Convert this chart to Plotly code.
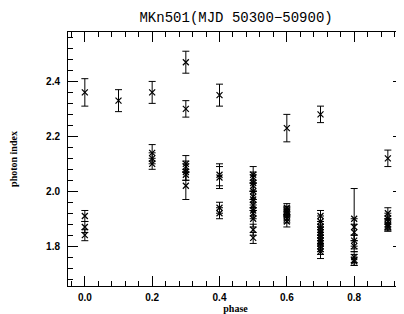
import plotly.graph_objects as go

# phase, photon index, error
phase = [0.0, 0.0, 0.0, 0.0,
         0.1,
         0.2, 0.2, 0.2, 0.2,
         0.3, 0.3, 0.3, 0.3, 0.3, 0.3, 0.3,
         0.4, 0.4, 0.4, 0.4, 0.4,
         0.5, 0.5, 0.5, 0.5, 0.5, 0.5, 0.5, 0.5, 0.5, 0.5, 0.5, 0.5, 0.5,
         0.6, 0.6, 0.6, 0.6, 0.6, 0.6, 0.6, 0.6,
         0.7, 0.7, 0.7, 0.7, 0.7, 0.7, 0.7, 0.7, 0.7, 0.7, 0.7, 0.7, 0.7,
         0.8, 0.8, 0.8, 0.8, 0.8, 0.8, 0.8, 0.8,
         0.9, 0.9, 0.9, 0.9, 0.9, 0.9, 0.9]
index = [2.36, 1.91, 1.87, 1.84,
         2.33,
         2.36, 2.14, 2.12, 2.10,
         2.47, 2.30, 2.10, 2.09, 2.07, 2.06, 2.02,
         2.35, 2.06, 2.05, 1.94, 1.92,
         2.06, 2.05, 2.03, 2.02, 2.00, 1.98, 1.97, 1.95, 1.93, 1.92, 1.90, 1.86, 1.83,
         2.23, 1.94, 1.93, 1.925, 1.92, 1.91, 1.90, 1.89,
         2.28, 1.91, 1.89, 1.87, 1.86, 1.85, 1.84, 1.83, 1.82, 1.81, 1.80, 1.79, 1.78,
         1.90, 1.87, 1.85, 1.82, 1.80, 1.76, 1.75, 1.745,
         2.12, 1.92, 1.90, 1.89, 1.88, 1.875, 1.87]
error = [0.05, 0.02, 0.02, 0.02,
         0.04,
         0.04, 0.03, 0.02, 0.02,
         0.04, 0.03, 0.03, 0.02, 0.03, 0.02, 0.05,
         0.04, 0.04, 0.04, 0.02, 0.02,
         0.03, 0.02, 0.03, 0.02, 0.03, 0.02, 0.03, 0.02, 0.02, 0.02, 0.03, 0.02, 0.02,
         0.05, 0.015, 0.015, 0.015, 0.015, 0.015, 0.015, 0.02,
         0.03, 0.02, 0.02, 0.02, 0.02, 0.02, 0.02, 0.02, 0.02, 0.02, 0.02, 0.02, 0.025,
         0.11, 0.03, 0.03, 0.02, 0.02, 0.02, 0.02, 0.015,
         0.03, 0.02, 0.02, 0.02, 0.02, 0.02, 0.015]

title_text = "MKn501(MJD 50300\u221250900)"
x_label = "phase"
y_label = "photon index"

fig = go.Figure()
fig.add_trace(go.Scatter(
    x=phase, y=index, mode="markers",
    marker=dict(symbol="x-thin", size=6, color="black",
                line=dict(width=1.2, color="black")),
    error_y=dict(type="data", array=error, visible=True,
                 color="black", thickness=1, width=3.5),
    showlegend=False,
))

axis_common = dict(
    showline=True, linecolor="black", linewidth=1, mirror="ticks",
    ticks="inside", ticklen=10, tickwidth=1, tickcolor="black",
    showgrid=False, zeroline=False, automargin=False,
    tickfont=dict(family="Liberation Sans", size=10, color="black", weight="bold"),
    tickformat=".1f",
)

fig.update_xaxes(
    range=[-0.05, 0.945], tick0=0, dtick=0.2, ticklabelstandoff=2,
    minor=dict(ticks="inside", ticklen=5, dtick=0.04, tick0=0, tickcolor="black", showgrid=False),
    title=dict(text=x_label, standoff=1,
               font=dict(family="Liberation Serif", size=10, color="black", weight="bold")),
    **axis_common)
fig.update_yaxes(
    range=[1.655, 2.58], tick0=1.8, dtick=0.2, ticklabelstandoff=5,
    minor=dict(ticks="inside", ticklen=5, dtick=0.04, tick0=1.8, tickcolor="black", showgrid=False),
    title=dict(text=y_label, standoff=34,
               font=dict(family="Liberation Serif", size=10, color="black", weight="bold")),
    **axis_common)

fig.update_layout(
    width=396, height=306,
    margin=dict(l=60, r=1, t=24, b=28),
    paper_bgcolor="white", plot_bgcolor="white",
    title=dict(text=title_text, x=0.576, xanchor="center", y=0.97, yanchor="middle",
               font=dict(family="Liberation Mono", size=14, color="black")),
)

fig.write_html("out.html")
